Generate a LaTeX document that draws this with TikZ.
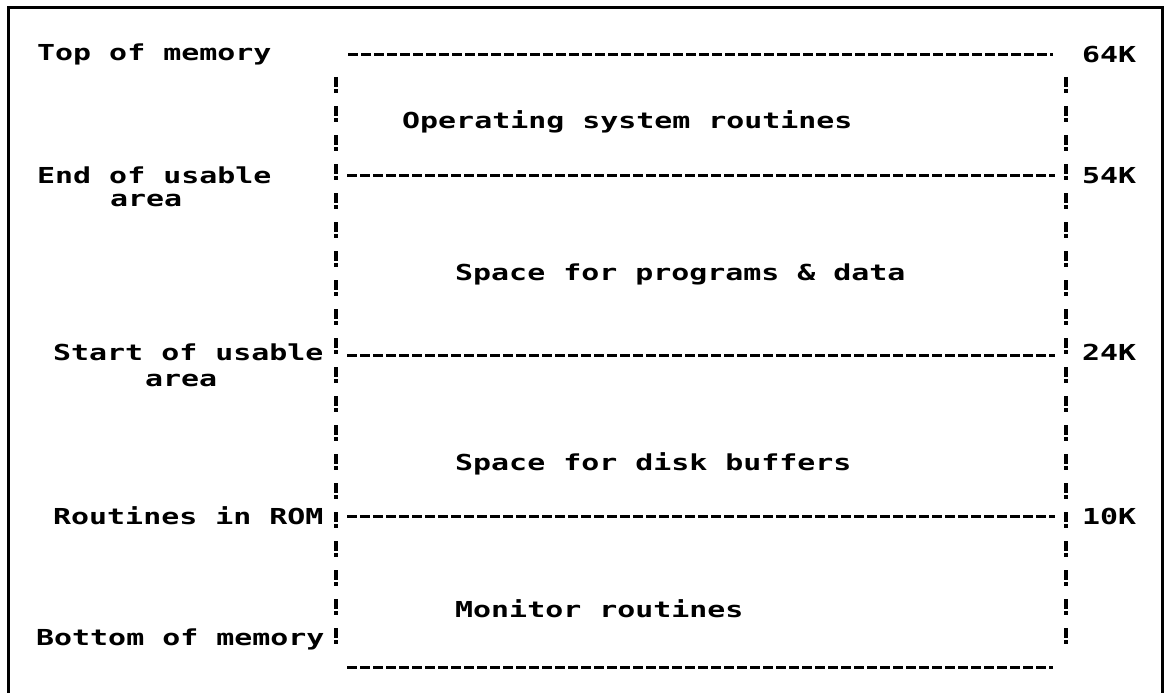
\documentclass[tikz,border=0pt]{standalone}
\usepackage{fontspec}
\newfontfamily\dotfont{DejaVu Sans Mono Bold}[FakeStretch=1.36]
\begin{document}
\begin{tikzpicture}[x=1pt,y=-1pt,
  lbl/.style={inner sep=0pt,anchor=base west,font=\dotfont\fontsize{22}{24}\selectfont},
  rowline/.style={line width=3pt,dash pattern=on 10pt off 3pt},
  column/.style={line width=4pt,dash pattern=on 10pt off 2pt on 4pt off 13pt},
  frame/.style={line width=3pt}]
\useasboundingbox (0,0) rectangle (1167,693);
% page frame, open at the bottom
\draw[frame] (8,693) -- (8,8) -- (1162,8) -- (1162,693);

% left-hand labels
\node[lbl] (top)   at (37,60)  {Top of memory};
\node[lbl] (endu)  at (37,183) {End of usable};
\node[lbl] (enda)  at (110,206) {area};
\node[lbl] (start) at (53,360) {Start of usable};
\node[lbl] (sta)   at (145,386) {area};
\node[lbl] (rom)   at (53,524) {Routines in ROM};
\node[lbl] (bot)   at (36,645) {Bottom of memory};

% region contents
\node[lbl] (os)   at (402,128) {Operating system routines};
\node[lbl] (prog) at (455,280) {Space for programs \& data};
\node[lbl] (disk) at (455,470) {Space for disk buffers};
\node[lbl] (mon)  at (455,617) {Monitor routines};

% addresses
\node[lbl] (k64) at (1082,63)  {64K};
\node[lbl] (k54) at (1082,183) {54K};
\node[lbl] (k24) at (1082,360) {24K};
\node[lbl] (k10) at (1082,524) {10K};

% boundary coordinates
\coordinate (l64) at (348,55);  \coordinate (r64) at (1053,55);
\coordinate (l54) at (347,175); \coordinate (r54) at (1055,175);
\coordinate (l24) at (347,355); \coordinate (r24) at (1055,355);
\coordinate (l10) at (347,516); \coordinate (r10) at (1055,516);
\coordinate (l0)  at (347,667); \coordinate (r0)  at (1053,667);
\coordinate (cl1) at (336,77);  \coordinate (cl2) at (336,648);
\coordinate (cr1) at (1066,77); \coordinate (cr2) at (1066,648);

% region boundaries
\draw[rowline] (l64) -- (r64);
\draw[rowline] (l54) -- (r54);
\draw[rowline] (l24) -- (r24);
\draw[rowline] (l10) -- (r10);
\draw[rowline] (l0) -- (r0);

% side walls
\draw[column] (cl1) -- (cl2);
\draw[column] (cr1) -- (cr2);
\end{tikzpicture}
\end{document}
